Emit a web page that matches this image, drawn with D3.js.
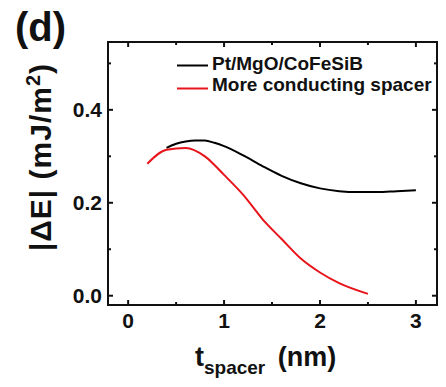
<!DOCTYPE html>
<html>
<head>
<meta charset="utf-8">
<script src="https://cdn.jsdelivr.net/npm/d3@7"></script>
<style>
  body { margin: 0; background: #fff; }
  text { font-family: "Liberation Sans", Arial, sans-serif; font-weight: bold; fill: #111; }
</style>
</head>
<body>
<svg id="chart" width="446" height="387"></svg>
<script>
// black curve: Pt/MgO/CoFeSiB
const blackX = [0.4, 0.5, 0.6, 0.7, 0.8, 0.9, 1.0, 1.2, 1.4, 1.6, 1.8, 2.0, 2.2, 2.4, 2.6, 2.8, 3.0]
const blackY = [0.318, 0.327, 0.332, 0.334, 0.334, 0.329, 0.322, 0.302, 0.279, 0.258, 0.242, 0.231, 0.225, 0.223, 0.223, 0.225, 0.227]
// red curve: more conducting spacer
const redX = [0.2, 0.4, 0.6, 0.8, 1.0, 1.2, 1.4, 1.6, 1.8, 2.0, 2.2, 2.5]
const redY = [0.284, 0.314, 0.318, 0.300, 0.260, 0.217, 0.165, 0.122, 0.080, 0.050, 0.027, 0.004]
const xTicks = [0, 1, 2, 3]
const xMinor = [0.5, 1.5, 2.5]
const yTicks = [0.0, 0.2, 0.4]
const yMinor = [0.1, 0.3, 0.5]
const legendLabels = ['Pt/MgO/CoFeSiB', 'More conducting spacer']
const colors = ['#000000', '#e8141b']

var margin = ({top: 42, right: 9, bottom: 82, left: 108})
var width = 446, height = 387
var svg = d3.select('#chart')

const x = d3.scaleLinear().domain([-0.21, 3.22]).range([margin.left, width - margin.right])
const y = d3.scaleLinear().domain([-0.02, 0.546]).range([height - margin.bottom, margin.top])

const plot = svg.append('g')

// ticks (inward on all four sides)
const bottomY = y.range()[0], topY = y.range()[1]
const leftX = x.range()[0], rightX = x.range()[1]
const tickSet = (vals, len, axis) => {
  vals.forEach(v => {
    if (axis === 'x') {
      plot.append('line').attr('x1', x(v)).attr('x2', x(v)).attr('y1', bottomY).attr('y2', bottomY - len)
      plot.append('line').attr('x1', x(v)).attr('x2', x(v)).attr('y1', topY).attr('y2', topY + len)
    } else {
      plot.append('line').attr('y1', y(v)).attr('y2', y(v)).attr('x1', leftX).attr('x2', leftX + len)
      plot.append('line').attr('y1', y(v)).attr('y2', y(v)).attr('x1', rightX).attr('x2', rightX - len)
    }
  })
}
tickSet(xTicks, 5, 'x')
tickSet(xMinor, 3, 'x')
tickSet(yTicks, 5, 'y')
tickSet(yMinor, 3, 'y')
plot.selectAll('line').attr('stroke', '#111').attr('stroke-width', 2)

plot.append('rect')
  .attr('x', leftX).attr('y', topY)
  .attr('width', rightX - leftX).attr('height', bottomY - topY)
  .attr('fill', 'none').attr('stroke', '#111').attr('stroke-width', 2)

// tick labels
svg.selectAll('.xl').data(xTicks).enter().append('text')
  .attr('x', d => x(d)).attr('y', bottomY + 23)
  .attr('text-anchor', 'middle').style('font-size', '21px')
  .text(d => d)
svg.selectAll('.yl').data(yTicks).enter().append('text')
  .attr('x', leftX - 6).attr('y', d => y(d) + 7)
  .attr('text-anchor', 'end').style('font-size', '21px')
  .text(d => d.toFixed(1))

// curves
const line = d3.line().x(d => x(d[0])).y(d => y(d[1]))
const series = [d3.zip(blackX, blackY), d3.zip(redX, redY)]
svg.selectAll('.curve').data(series).enter().append('path')
  .attr('d', d => line.curve(d3.curveMonotoneX)(d))
  .attr('fill', 'none')
  .attr('stroke', (d, i) => colors[i])
  .attr('stroke-width', 2)

// legend
legendLabels.forEach((lab, i) => {
  const ly = 65.5 + i * 23
  svg.append('line').attr('x1', 177).attr('x2', 208).attr('y1', ly).attr('y2', ly)
    .attr('stroke', colors[i]).attr('stroke-width', 2)
  svg.append('text').attr('x', 212).attr('y', 70 + i * 21).style('font-size', '19px').text(lab)
})

// panel label
svg.append('text').attr('x', 15).attr('y', 41).style('font-size', '40px').text('(d)')

// axis titles
const yt = svg.append('text')
  .attr('transform', `translate(51,157) rotate(-90)`)
  .attr('text-anchor', 'middle').style('font-size', '30px').style('letter-spacing', '1px')
yt.append('tspan').text('|ΔE| (mJ/m')
yt.append('tspan').attr('dy', -11).style('font-size', '20px').text('2')
yt.append('tspan').attr('dy', 11).text(')')

const xt = svg.append('text')
  .attr('x', 195).attr('y', 366)
  .style('font-size', '27px')
xt.append('tspan').text('t')
xt.append('tspan').attr('dy', 8).style('font-size', '19px').text('spacer')
xt.append('tspan').attr('dy', -8).attr('dx', 5).text(' (nm)')
</script>
</body>
</html>
